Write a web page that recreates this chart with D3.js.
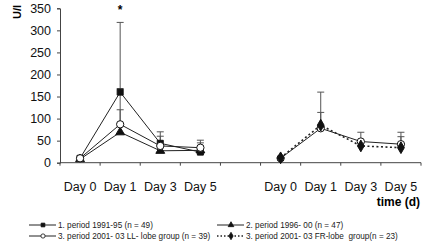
<!DOCTYPE html>
<html>
<head>
<meta charset="utf-8">
<script src="https://cdn.jsdelivr.net/npm/d3@7"></script>
<style>
  body { margin: 0; background: #fff; }
  text { font-family: "Liberation Sans", Arial, sans-serif; }
</style>
</head>
<body>
<div id="chart"></div>
<script>
let w = 424;
let h = 243;

// slots along the x axis: left panel, empty slot, right panel
let slots = ["L0", "L1", "L3", "L5", "gap", "R0", "R1", "R3", "R5"];
let dayLabels = ["Day 0", "Day 1", "Day 3", "Day 5"];
let leftSlots = ["L0", "L1", "L3", "L5"];
let rightSlots = ["R0", "R1", "R3", "R5"];
let yTicks = [0, 50, 100, 150, 200, 250, 300, 350];

// values (U/l) and upper error bar ends
let period1 = [10, 160, 44, 24];
let period1Err = [null, 318, 70, 51];
let period2 = [8, 69, 27, 28];
let period2Err = [null, 168, null, null];
let period3LLleft = [10, 87, 38, 34];
let period3LLleftErr = [null, 120, 60, 45];
let period3LL = [10, 78, 48, 42];
let period3LLErr = [null, 160, 69, 69];
let period3FR = [11, 85, 38, 34];
let period3FRErr = [null, 114, null, 59];

let legendItems = [
    "1. period 1991-95 (n = 49)",
    "2. period 1996- 00 (n = 47)",
    "3. period 2001- 03 LL- lobe group (n = 39)",
    "3. period 2001- 03 FR-lobe  group(n = 23)"
];

let svg = d3.select("#chart").append("svg")
    .attr("width", w)
    .attr("height", h);

let x = d3.scaleBand().domain(slots).range([60, 421]);
let y = d3.scaleLinear().domain([0, 350]).range([162.7, 8.3]);

// y axis
let yAxis = svg.append("g")
    .attr("transform", "translate(60,0)")
    .call(d3.axisLeft(y).tickValues(yTicks).tickSize(3).tickPadding(6));
yAxis.select(".domain").attr("stroke", "#444");
yAxis.selectAll(".tick line").attr("stroke", "#444");
yAxis.selectAll("text")
    .attr("font-size", 12.5)
    .attr("fill", "#111")
    .style("font-family", "'Liberation Sans', Arial, sans-serif");

// x axis line with ticks on slot boundaries
let xg = svg.append("g");
xg.append("line")
    .attr("x1", x.range()[0]).attr("x2", x.range()[1])
    .attr("y1", y(0)).attr("y2", y(0))
    .attr("stroke", "#444");
let bounds = slots.map(s => x(s)).concat([x.range()[1]]);
xg.selectAll(".xt").data(bounds).join("line")
    .attr("x1", d => d).attr("x2", d => d)
    .attr("y1", y(0)).attr("y2", y(0) + 3)
    .attr("stroke", "#444");

// day labels
let labelSlots = leftSlots.concat(rightSlots);
svg.selectAll(".daylab").data(labelSlots).join("text")
    .attr("x", d => x(d) + x.bandwidth() / 2)
    .attr("y", 191)
    .attr("text-anchor", "middle")
    .attr("font-size", 12.5)
    .attr("fill", "#111")
    .text((d, i) => dayLabels[i % 4]);

svg.append("text")
    .attr("x", 420).attr("y", 206)
    .attr("text-anchor", "end")
    .attr("font-size", 12)
    .attr("font-weight", "bold")
    .text("time (d)");

svg.append("text")
    .attr("transform", "translate(21,12) rotate(-90)")
    .attr("text-anchor", "middle")
    .attr("font-size", 11)
    .attr("font-weight", "bold")
    .text("U/l");

svg.append("text")
    .attr("x", x("L1") + x.bandwidth() / 2).attr("y", 14)
    .attr("text-anchor", "middle")
    .attr("font-size", 12)
    .attr("font-weight", "bold")
    .text("*");

function cx(slot) { return x(slot) + x.bandwidth() / 2; }

// error bars first so markers sit on top
function errorBars(keys, vals, errs) {
    let d = keys.map((k, i) => ({k: k, v: vals[i], e: errs[i]})).filter(p => p.e != null);
    let g = svg.append("g").attr("stroke", "#555").attr("stroke-width", 1);
    g.selectAll(".ev").data(d).join("line")
        .attr("x1", p => cx(p.k)).attr("x2", p => cx(p.k))
        .attr("y1", p => y(p.v)).attr("y2", p => y(p.e));
    g.selectAll(".ec").data(d).join("line")
        .attr("x1", p => cx(p.k) - 3.5).attr("x2", p => cx(p.k) + 3.5)
        .attr("y1", p => y(p.e)).attr("y2", p => y(p.e));
}
errorBars(leftSlots, period1, period1Err);
errorBars(leftSlots, period2, period2Err);
errorBars(leftSlots, period3LLleft, period3LLleftErr);
errorBars(rightSlots, period3LL, period3LLErr);
errorBars(rightSlots, period3FR, period3FRErr);

let line = d3.line().x(d => cx(d[0])).y(d => y(d[1]));

function series(keys, vals, symbol, size, fill, dash) {
    let pts = keys.map((k, i) => [k, vals[i]]);
    svg.append("path")
        .attr("d", line(pts))
        .attr("fill", "none")
        .attr("stroke", "#222")
        .attr("stroke-width", dash ? 1.6 : 1)
        .attr("stroke-dasharray", dash ? "2,2.5" : null);
    svg.append("g").selectAll("path").data(pts).join("path")
        .attr("transform", d => "translate(" + cx(d[0]) + "," + y(d[1]) + ")")
        .attr("d", d3.symbol().type(symbol).size(size))
        .attr("fill", fill)
        .attr("stroke", "#111")
        .attr("stroke-width", 1);
}

series(leftSlots, period1, d3.symbolSquare, 36, "#111", false);
series(leftSlots, period2, d3.symbolTriangle, 34, "#111", false);
series(leftSlots, period3LLleft, d3.symbolCircle, 42, "#fff", false);
series(rightSlots, period3LL, d3.symbolCircle, 42, "#fff", false);
series(rightSlots, period3FR, d3.symbolDiamond, 40, "#111", true);

// legend
let legendPos = [
    {x: 29, y: 225, sym: d3.symbolSquare, size: 14, fill: "#111", dash: false},
    {x: 217, y: 225, sym: d3.symbolTriangle, size: 14, fill: "#111", dash: false},
    {x: 29, y: 236, sym: d3.symbolCircle, size: 14, fill: "#fff", dash: false},
    {x: 217, y: 236, sym: d3.symbolDiamond, size: 16, fill: "#111", dash: true}
];
let lg = svg.append("g").selectAll("g").data(legendItems).join("g")
    .attr("transform", (d, i) => "translate(" + legendPos[i].x + "," + legendPos[i].y + ")");
lg.append("line")
    .attr("x1", 0).attr("x2", 27)
    .attr("stroke", "#222")
    .attr("stroke-width", (d, i) => legendPos[i].dash ? 1.4 : 1)
    .attr("stroke-dasharray", (d, i) => legendPos[i].dash ? "1.5,2" : null);
lg.append("path")
    .attr("transform", "translate(14,0)")
    .attr("d", (d, i) => d3.symbol().type(legendPos[i].sym).size(legendPos[i].size)())
    .attr("fill", (d, i) => legendPos[i].fill)
    .attr("stroke", "#111")
    .attr("stroke-width", 0.8);
lg.append("text")
    .attr("x", 29).attr("y", 3)
    .attr("font-size", 8.2)
    .attr("fill", "#222")
    .style("white-space", "pre")
    .text(d => d);
</script>
</body>
</html>
